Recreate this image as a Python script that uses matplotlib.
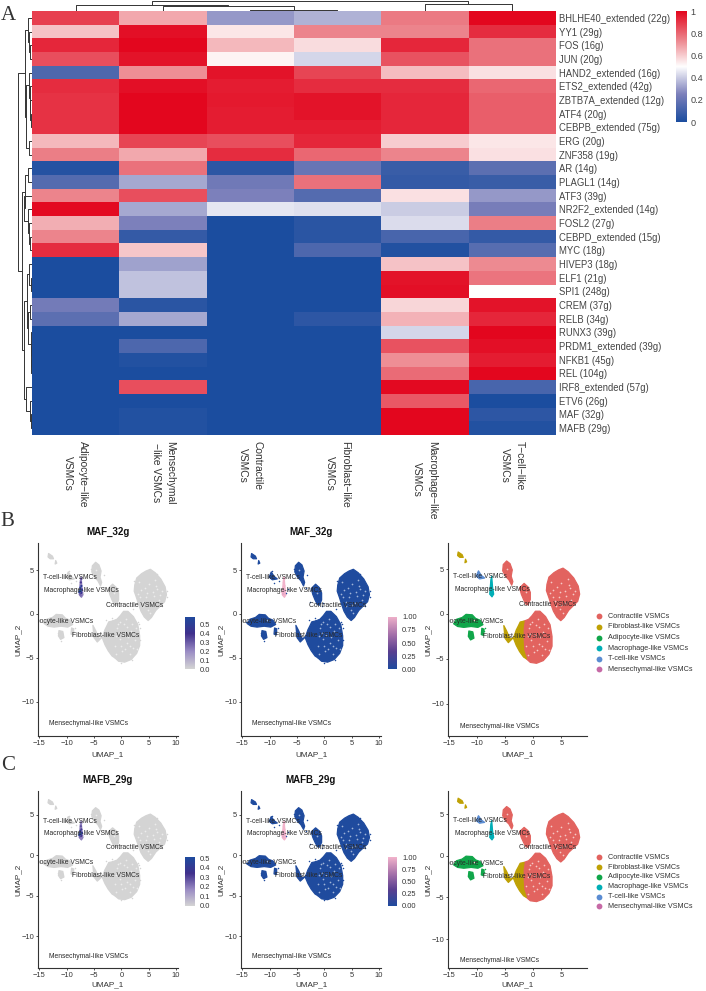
import numpy as np
import matplotlib
matplotlib.use("Agg")
import matplotlib.pyplot as plt
from matplotlib.colors import LinearSegmentedColormap
from matplotlib.lines import Line2D

W, H = 706, 991
plt.rcParams['font.family'] = ['Liberation Sans', 'DejaVu Sans']

regulons = ["BHLHE40_extended (22g)", "YY1 (29g)", "FOS (16g)", "JUN (20g)", "HAND2_extended (16g)",
            "ETS2_extended (42g)", "ZBTB7A_extended (12g)", "ATF4 (20g)", "CEBPB_extended (75g)", "ERG (20g)",
            "ZNF358 (19g)", "AR (14g)", "PLAGL1 (14g)", "ATF3 (39g)", "NR2F2_extended (14g)", "FOSL2 (27g)",
            "CEBPD_extended (15g)", "MYC (18g)", "HIVEP3 (18g)", "ELF1 (21g)", "SPI1 (248g)", "CREM (37g)",
            "RELB (34g)", "RUNX3 (39g)", "PRDM1_extended (39g)", "NFKB1 (45g)", "REL (104g)",
            "IRF8_extended (57g)", "ETV6 (26g)", "MAF (32g)", "MAFB (29g)"]
cell_labels = ["Adipocyte\u2212like\nVSMCs", "Mensechymal\n\u2212like VSMCs", "Contractile\nVSMCs",
               "Fibroblast\u2212like\nVSMCs", "Macrophage\u2212like\nVSMCs", "T\u2212cell\u2212like\nVSMCs"]

adipocyte = [.88, .62, .93, .85, .13, .92, .91, .91, .91, .64, .75, .03, .15, .74, .99, .66, .74, .92,
             0, 0, 0, .23, .17, 0, 0, 0, 0, 0, 0, 0, 0]
mensechymal = [.67, .98, 1.0, .97, .72, .98, 1.0, 1.0, 1.0, .87, .67, .78, .33, .85, .33, .25, .07, .61,
               .32, .38, .38, .04, .33, 0, .13, .02, 0, .85, 0, .02, .02]
contractile = [.30, .55, .64, .52, .97, .95, .96, .95, .95, .85, .92, .05, .22, .25, .45, 0, 0, 0,
               0, 0, 0, 0, 0, 0, 0, 0, 0, 0, 0, 0, 0]
fibroblast = [.35, .74, .57, .42, .87, .92, .97, .97, .95, .93, .80, .20, .78, .15, .44, .04, .04, .13,
              0, 0, 0, 0, .05, 0, 0, 0, 0, 0, 0, 0, 0]
macrophage = [.76, .74, .93, .84, .63, .92, .93, .93, .93, .60, .74, .08, .07, .56, .40, .43, .12, .02,
              .62, .97, .98, .58, .65, .42, .84, .72, .79, .99, .83, 1.0, 1.0]
tcell = [1.0, .92, .78, .78, .56, .80, .82, .82, .82, .55, .56, .17, .08, .30, .24, .75, .07, .16,
         .73, .77, .50, .97, .93, 1.0, .98, .95, 1.0, .12, 0, .05, .02]

# dendrograms: (height, left, right), leaves are row / column numbers
row_tree = (1.0,
            (.5, (.28, 0, (.2, 1, (.13, 2, 3))),
             (.42, (.2, 4, (.16, 5, (.12, 6, (.08, 7, 8)))), (.2, 9, 10))),
            (.68, (.5, (.3, 11, 12), (.58, 13, (.3, 14, (.2, 15, (.15, 16, 17))))),
             (.58, (.38, (.2, 18, (.1, 19, 20)), (.28, (.14, 21, 22), (.1, 23, (.07, 24, (.05, 25, 26))))),
              (.42, 27, (.16, 28, (.05, 29, 30))))))
col_tree = (1.0, (.6, 0, (.55, 1, (.15, 2, 3))), (.67, 4, 5))

# cluster outlines on the UMAP
contractile_a = [(5.3, 5.1), (6.2, 4.7), (7.2, 4.0), (8.0, 3.1), (8.25, 2.2), (7.9, 1.4), (7.1, .9), (6.3, .4),
                 (5.5, -.4), (4.9, -.75), (4.2, -.35), (3.6, .3), (3.2, 1.0), (2.8, 1.8), (2.35, 2.6), (2.45, 3.3),
                 (2.8, 4.1), (3.7, 4.6), (4.5, 4.9)]
contractile_b = [(1.2, .3), (2.2, -.3), (3.0, -1.2), (3.35, -2.5), (3.35, -3.6), (2.8, -4.5), (1.8, -5.2), (.6, -5.5),
                 (-.5, -5.4), (-1.2, -5.0), (-1.7, -4.0), (-1.8, -2.8), (-1.8, -1.6), (-1.6, -.8), (-.8, -.6),
                 (-.2, -.2), (.4, .3)]
contractile_c = [(-4.7, 5.9), (-4.1, 5.6), (-3.7, 4.9), (-3.9, 4.2), (-3.6, 3.6), (-3.8, 3.2), (-4.3, 3.8),
                 (-4.9, 4.2), (-5.4, 4.8), (-5.3, 5.5)]
contractile_d = [(-1.6, 3.4), (-.9, 3.0), (-.5, 2.4), (-.5, 1.6), (-.9, 1.0), (-1.3, 1.1), (-1.7, 1.6),
                 (-2.1, 2.2), (-2.4, 2.9)]
fibroblast_a = [(-2.3, -.9), (-1.6, -.8), (-1.8, -1.6), (-1.8, -2.8), (-1.7, -4.0), (-1.2, -5.0), (-1.7, -4.8),
                (-2.4, -4.2), (-3.0, -3.5), (-3.5, -2.7), (-3.0, -1.8), (-2.6, -1.3)]
fibroblast_b = [(-5.2, -1.3), (-4.7, -1.9), (-4.1, -2.8), (-3.6, -2.7), (-4.4, -3.2), (-5.0, -2.7)]
fibroblast_c = [(-13.3, 6.9), (-12.6, 6.6), (-12.4, 6.3), (-13.0, 6.3), (-13.4, 6.5)]
fibroblast_d = [(-12.0, 6.1), (-11.8, 5.8), (-12.1, 5.7)]
adipocyte_a = [(-11.9, -.05), (-10.8, -.1), (-10.2, -.5), (-9.4, -.7), (-8.9, -1.2), (-9.8, -1.5), (-11.0, -1.4),
               (-12.3, -1.5), (-13.4, -1.4), (-14.1, -1.1), (-13.6, -.6), (-12.6, -.4)]
adipocyte_b = [(-11.4, -1.9), (-10.7, -2.0), (-10.5, -2.7), (-11.1, -2.9), (-11.5, -2.5)]
adipocyte_c = [(-9.1, -1.6), (-8.7, -1.7), (-8.8, -2.4), (-9.2, -2.3)]
tcell_a = [(-10.1, 4.2), (-9.7, 4.8), (-9.2, 4.3), (-8.6, 4.0), (-9.5, 3.9)]
macro_a = [(-7.35, 4.2), (-7.2, 3.0), (-7.0, 2.2), (-7.3, 1.9), (-7.7, 2.2), (-7.6, 3.0), (-7.5, 3.8)]

clusters = {"Contractile VSMCs": [contractile_a, contractile_b, contractile_c, contractile_d],
            "Fibroblast-like VSMCs": [fibroblast_a, fibroblast_b, fibroblast_c, fibroblast_d],
            "Adipocyte-like VSMCs": [adipocyte_a, adipocyte_b, adipocyte_c],
            "Macrophage-like VSMCs": [macro_a],
            "T-cell-like VSMCs": [tcell_a],
            "Mensechymal-like VSMCs": []}
cluster_colors = ["#e2635f", "#bfa105", "#10a64a", "#00aeb6", "#5a8cd2", "#c66aa6"]

# gaps inside the big clusters and stray cells outside them
gap_x = [.5, -.8, 1.8, -.3, 1.0, 2.5, -1.2, .2, 1.5, 2.7, -.5, .9, 5.0, 3.6, 6.5, 4.5, 7.1, 5.6, 3.2, 6.1, 4.0, 5.3,
         -4.6, -1.3, -10.5, 2.1, 0, -.9, 1.2, 4.7, 6.8, 3.9, 5.9, -.6, .3, 1.1, 2.0, -1.0, 2.9, .7, -.2, 1.6, 6.3, 7.4,
         3.0, 4.3, 5.0, 5.7, 4.8, 3.5]
gap_y = [-1.2, -1.6, -2.0, -2.9, -3.3, -3.0, -3.6, -4.2, -4.6, -1.6, -2.2, -.6, 3.4, 2.7, 2.9, 1.9, 2.2, 1.2, 3.6, 3.9,
         .9, .1, 5.0, 2.4, -.7, -3.9, -3.6, -4.6, -2.6, 2.4, 1.6, 1.4, 2.0, -1.1, -2.4, -1.5, -1.1, -2.5, -4.0, -4.0,
         -.9, -3.6, 3.2, 2.6, 2.3, 3.0, 1.0, 2.5, .5, 1.9]
stray_x = [-8.5, -8.8, -7.0, -6.6, -3.2, -3.4, -2.7, 2.1, 3.1, 3.3, -.4, -.2, 8.4, 6.6, -9.6, -9.2, -8.2, -11.6, -11.0,
           8.3, 7.4, 2.3, 3.4, 3.5, -.1, 1.9, -1.7, -2.8, -5.6, -14.3]
stray_y = [-1.6, -1.9, 2.4, 2.9, 4.4, 3.0, 1.4, .6, -.9, -1.2, .9, 1.3, 2.6, 4.6, 4.9, 3.5, 3.8, -2.2, -3.1,
           1.9, .9, 3.8, -1.6, -3.0, -5.6, -5.3, -.5, -.7, 5.1, -.9]

macro_x = [-7.3, -7.4, -7.3, -7.5, -7.6, -7.4, -7.2, -7.7, -7.5, -7.4, -7.3]
macro_y = [4.0, 3.6, 3.2, 3.0, 2.7, 2.6, 2.8, 2.5, 2.3, 2.1, 2.4]
macro_maf = [.3, .35, .45, .5, .55, .58, .42, .5, .3, .25, .4]
macro_mafb = [.2, .3, .35, .45, .5, .52, .45, .5, .3, .2, .35]
macro_full = [1, 1, 1, 1, 1, .9, 1, 1, .9, 1, 1]

label_text = ["T-cell-like VSMCs", "Macrophage-like VSMCs", "Contractile VSMCs", "Adipocyte-like VSMCs",
              "Fibroblast-like VSMCs", "Mensechymal-like VSMCs"]
label_x = [-9.5, -7.3, 2.5, -11.3, -2.9, -6.0]
label_y = [4.2, 2.7, 1.0, -.9, -2.5, -12.55]

x_ticks = [-15, -10, -5, 0, 5, 10]
y_ticks = [-10, -5, 0, 5]
heat_ticks = [0, .2, .4, .6, .8, 1]
expr_ticks_b = [0, .1, .2, .3, .4, .5]
expr_ticks_2 = [0, .25, .5, .75, 1.0]

grey = "#d4d4d4"
blue = "#1f4b9e"
pink = "#f2b3cb"
text_col = "#333333"

heat_cmap = LinearSegmentedColormap.from_list("heat", [(0, "#1b4d9f"), (.25, "#7c80bb"), (.5, "#ffffff"),
                                                       (.75, "#ec8088"), (1, "#e3061e")])
low_cmap = LinearSegmentedColormap.from_list("low", [grey, "#9a8cc4", "#40308c", blue])
high_cmap = LinearSegmentedColormap.from_list("high", [blue, "#5a3f90", "#a873ab", pink])

fig = plt.figure(figsize=(W / 100, H / 100), dpi=100)


def box(l, t, r, b):
    return fig.add_axes([l / W, 1 - b / H, (r - l) / W, (b - t) / H])


def draw_tree(ax, node, horizontal):
    # returns (leaf position, height) of this node
    if not isinstance(node, tuple):
        return node + .5, 0
    h, left, right = node
    p1, h1 = draw_tree(ax, left, horizontal)
    p2, h2 = draw_tree(ax, right, horizontal)
    xs, ys = [p1, p1, p2, p2], [h1, h, h, h2]
    if horizontal:
        ax.plot(ys, xs, color="#333333", lw=.7, solid_capstyle="butt")
    else:
        ax.plot(xs, ys, color="#333333", lw=.7, solid_capstyle="butt")
    return (p1 + p2) / 2, h


# panel A
values = np.array([adipocyte, mensechymal, contractile, fibroblast, macrophage, tcell]).T
ax = box(32, 11, 555.7, 435)
ax.imshow(values, cmap=heat_cmap, vmin=0, vmax=1, aspect="auto", interpolation="nearest")
ax.set_xticks(range(6))
ax.set_xticklabels(cell_labels, rotation=-90, ha="center", va="top", fontsize=7.4, linespacing=1.6, color=text_col)
ax.yaxis.tick_right()
ax.set_yticks(range(len(regulons)))
ax.set_yticklabels(regulons, fontsize=6.85, color="#444444")
ax.tick_params(length=0, pad=2.5)
ax.tick_params(axis="x", pad=4)
for s in ax.spines.values():
    s.set_visible(False)

dend = box(17.5, 11, 32, 435)
draw_tree(dend, row_tree, True)
dend.set_xlim(1.03, 0)
dend.set_ylim(len(regulons), 0)
dend.axis("off")

dend = box(32, 0, 555.7, 11)
draw_tree(dend, col_tree, False)
dend.set_xlim(0, 6)
dend.set_ylim(0, 1.1)
dend.axis("off")

cax = box(676, 11, 686.3, 122)
cax.imshow(np.linspace(1, 0, 256).reshape(-1, 1), cmap=heat_cmap, aspect="auto", extent=[0, 1, 0, 1])
cax.set_xticks([])
cax.yaxis.tick_right()
cax.set_yticks(heat_ticks)
cax.set_yticklabels(["0", "0.2", "0.4", "0.6", "0.8", "1"], fontsize=6.6, color="#444444")
cax.tick_params(length=0, pad=3)
for s in cax.spines.values():
    s.set_visible(False)


def umap_axes(l, t, r, b, xlim, ylim, title, xlab_y):
    a = box(l, t, r, b)
    a.set_xlim(*xlim)
    a.set_ylim(*ylim)
    a.set_xticks([v for v in x_ticks if xlim[0] <= v <= xlim[1]])
    a.set_yticks(y_ticks)
    a.tick_params(labelsize=5.4, length=1.5, width=.6, pad=1.5, color="#333333", labelcolor=text_col)
    a.spines["top"].set_visible(False)
    a.spines["right"].set_visible(False)
    a.spines["left"].set_linewidth(.8)
    a.spines["bottom"].set_linewidth(.8)
    a.spines["left"].set_color("#333333")
    a.spines["bottom"].set_color("#333333")
    if title:
        a.set_title(title, fontsize=7, fontweight="bold", pad=5.5, color="#111111")
    fig.text((l + r) / 2 / W, 1 - xlab_y / H, "UMAP_1", fontsize=5.9, ha="center", va="center", color=text_col)
    a.text(-.145, .5, "UMAP_2", transform=a.transAxes, rotation=90, fontsize=5.9, ha="center", va="center",
           color=text_col)
    return a


def draw_clusters(a, colors):
    for (name, shapes), c in zip(clusters.items(), colors):
        for shape in shapes:
            xs, ys = zip(*shape)
            a.fill(xs, ys, color=c, lw=.9, joinstyle="round")
    return a


def add_labels(a):
    for t, x, y in zip(label_text, label_x, label_y):
        a.text(x, y, t, fontsize=4.9, color="#2a2a2a", ha="center", va="center", clip_on=True)


def feature_panel(a, base, strip_base, strip_vals, cmap, vmax, gap_col):
    colors = [base] * 6
    colors[3] = strip_base
    draw_clusters(a, colors)
    a.scatter(stray_x, stray_y, s=1.2, color=base, lw=0)
    a.scatter(gap_x, gap_y, s=1.5, color=gap_col, lw=0)
    a.scatter(macro_x, macro_y, s=2.5, c=strip_vals, cmap=cmap, vmin=0, vmax=vmax, lw=0)
    add_labels(a)


def cbar(l, t, r, b, cmap, top, ticks, fmt):
    c = box(l, t, r, b)
    c.imshow(np.linspace(top, 0, 256).reshape(-1, 1), cmap=cmap, vmin=0, vmax=top, aspect="auto",
             extent=[0, 1, 0, top])
    c.set_xticks([])
    c.yaxis.tick_right()
    c.set_yticks(ticks)
    c.set_yticklabels([fmt % v for v in ticks], fontsize=5.4, color=text_col)
    c.tick_params(length=0, pad=3.5)
    for s in c.spines.values():
        s.set_visible(False)


def legend_at(x, y, step):
    for i, name in enumerate(clusters):
        fig.add_artist(Line2D([x / W], [1 - (y + i * step) / H], ls="", marker="o", ms=4.2, color=cluster_colors[i],
                              mec="none", transform=fig.transFigure))
        fig.text((x + 8.7) / W, 1 - (y + i * step) / H, name, fontsize=5.2, va="center", color=text_col)


# panels B and C share the same layout, only the heights differ
rows = [
    dict(top=543, bottom=736, ylim=(-13.93, 8.1), ylim3=(-13.6, 7.9), gene="MAF_32g", expr=macro_maf, xlab=755,
         c_top=616.7, c_bot=669.3, low_top=.585, leg_y=616.3, leg_step=10.6),
    dict(top=790.7, bottom=968.3, ylim=(-14.0, 8.0), ylim3=(-13.5, 7.8), gene="MAFB_29g", expr=macro_mafb, xlab=985,
         c_top=857.3, c_bot=906, low_top=.51, leg_y=857.3, leg_step=9.8),
]
for r in rows:
    a1 = umap_axes(38.3, r["top"], 177.7, r["bottom"], (-15.18, 10.3), r["ylim"], r["gene"], r["xlab"])
    feature_panel(a1, grey, "#8f80bd", r["expr"], low_cmap, .55, "#ececec")
    a2 = umap_axes(241.3, r["top"], 380.7, r["bottom"], (-15.18, 10.3), r["ylim"], r["gene"], r["xlab"])
    feature_panel(a2, blue, pink, macro_full, high_cmap, 1, "#9fb4d8")
    a3 = umap_axes(448.3, r["top"], 586.7, r["bottom"], (-15.05, 9.5), r["ylim3"], None, r["xlab"])
    draw_clusters(a3, cluster_colors)
    a3.scatter(gap_x, gap_y, s=1.5, color="#f6c9c7", lw=0)
    a3.scatter(stray_x[:2], stray_y[:2], s=1.2, color=cluster_colors[2], lw=0)
    add_labels(a3)

    cbar(185.3, r["c_top"], 194.7, r["c_bot"], low_cmap, r["low_top"], expr_ticks_b, "%.1f")
    cbar(388.3, r["c_top"], 397.3, r["c_bot"], high_cmap, 1.0, expr_ticks_2, "%.2f")
    legend_at(599.3, r["leg_y"], r["leg_step"])

# panel letters
for letter, x, y in [("A", 8.5, 16), ("B", 7, 522), ("C", 8, 766)]:
    fig.text(x / W, 1 - y / H, letter, fontsize=15, family="Liberation Serif", ha="center", va="center",
             color="#333333")

fig.savefig("out.png", dpi=100)
